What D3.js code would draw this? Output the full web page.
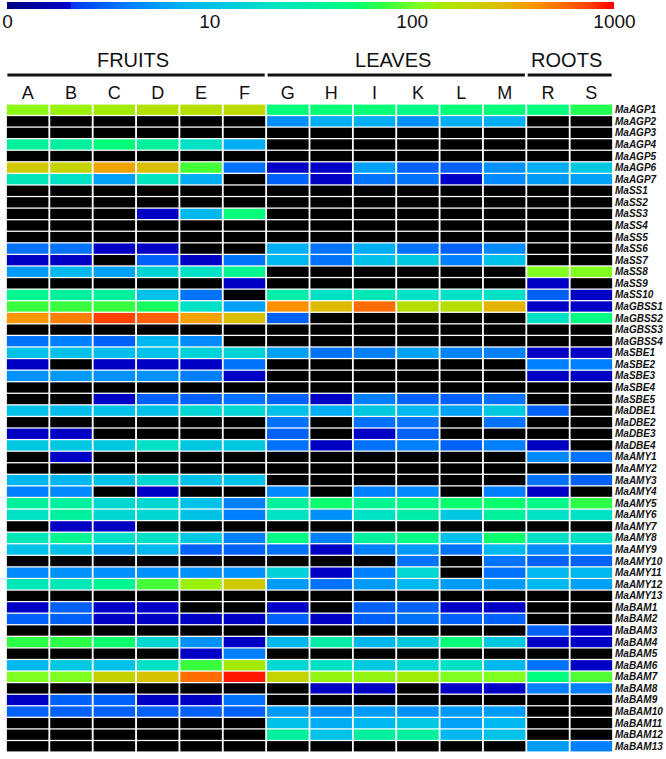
<!DOCTYPE html>
<html>
<head>
<meta charset="utf-8">
<script src="https://cdn.jsdelivr.net/npm/d3@7/dist/d3.min.js"></script>
<style>
  html, body { margin: 0; padding: 0; background: #fff; }
  svg { display: block; }
  text { font-family: "Liberation Sans", Arial, sans-serif; }
</style>
</head>
<body>
<svg id="chart" width="666" height="759"></svg>
<script>
// ---- data ----
const columns = ["A","B","C","D","E","F","G","H","I","K","L","M","R","S"];
const groups = [
  { name: "FRUITS", cols: ["A","B","C","D","E","F"] },
  { name: "LEAVES", cols: ["G","H","I","K","L","M"] },
  { name: "ROOTS",  cols: ["R","S"] }
];
const genes = [
  "MaAGP1","MaAGP2","MaAGP3","MaAGP4","MaAGP5","MaAGP6","MaAGP7",
  "MaSS1","MaSS2","MaSS3","MaSS4","MaSS5","MaSS6","MaSS7","MaSS8","MaSS9","MaSS10",
  "MaGBSS1","MaGBSS2","MaGBSS3","MaGBSS4",
  "MaSBE1","MaSBE2","MaSBE3","MaSBE4","MaSBE5",
  "MaDBE1","MaDBE2","MaDBE3","MaDBE4",
  "MaAMY1","MaAMY2","MaAMY3","MaAMY4","MaAMY5","MaAMY6","MaAMY7","MaAMY8","MaAMY9","MaAMY10","MaAMY11","MaAMY12","MaAMY13",
  "MaBAM1","MaBAM2","MaBAM3","MaBAM4","MaBAM5","MaBAM6","MaBAM7","MaBAM8","MaBAM9","MaBAM10","MaBAM11","MaBAM12","MaBAM13"
];
const n = null; // not detected (black)
const values = [
  [120,130,140,160,165,180,50,52,52,45,52,50,48,65],
  [n,n,n,n,n,n,5,7,7,5,7,7,n,n],
  [n,n,n,n,n,n,n,n,n,n,n,n,n,n],
  [35,35,50,35,20,7,n,n,n,n,n,n,n,n],
  [n,n,n,n,n,n,n,n,n,n,n,n,n,n],
  [230,200,350,270,80,3.5,2,2,6,3,3,5,7,12],
  [25,20,6,22,7,n,3,2,3.5,3.5,2,4.5,5.5,6],
  [n,n,n,n,n,n,n,n,n,n,n,n,n,n],
  [n,n,n,n,n,n,n,n,n,n,n,n,n,n],
  [n,n,n,2,8,50,n,n,n,n,n,n,n,n],
  [n,n,n,n,n,n,n,n,n,n,n,n,n,n],
  [n,n,n,n,n,n,n,n,n,n,n,n,n,n],
  [3.5,3.5,2,2,n,n,7,3.5,7,3.5,3,4.5,n,n],
  [2,2,n,3,2,3.5,8,3.5,10,12,4,10,n,n],
  [5.5,8,6,15,20,40,n,n,n,n,n,n,110,110],
  [n,n,n,n,n,2,n,n,n,n,n,n,2,n],
  [40,35,35,10,3.5,n,30,20,25,20,20,20,3,2],
  [75,75,75,60,20,6,420,280,550,170,170,300,2,2],
  [400,480,750,600,360,270,3,n,n,n,n,n,20,45],
  [n,n,n,n,n,n,n,n,n,n,n,n,n,n],
  [3.5,4,3,8,4.5,n,n,n,n,n,n,n,n,n],
  [10,10,9,10,14,15,6,3.5,4,6,4.2,4,2,2],
  [2,n,2,2,2,3.5,n,n,n,n,n,n,4,4],
  [5,5.5,5,5,4,2,n,n,n,n,n,n,2,2],
  [n,n,n,n,n,n,n,n,n,n,n,n,n,n],
  [n,n,2,3,3,3.5,3,2,4,3,3,3.5,n,n],
  [10,9,10,10,16,16,10,7,12,8,6,12,3,n],
  [n,n,n,n,n,n,3.5,n,3.5,3.5,n,3.5,n,n],
  [2,2,n,n,n,n,3,n,2,3,n,n,n,n],
  [12,12,12,20,12,12,3.5,2,3.5,4,3,4,2,n],
  [n,2,n,n,n,n,n,n,n,n,n,n,4.5,3.5],
  [n,n,n,n,n,n,n,n,n,n,n,n,n,n],
  [8,8,10,16,10,10,n,n,n,n,n,n,3.5,3],
  [4,4.5,n,2,n,n,4.5,n,4,4.5,n,4,2,n],
  [35,35,16,16,10,4,35,55,40,45,55,55,45,70],
  [20,35,16,16,10,4,20,5,20,30,12,35,20,20],
  [n,2,2,n,n,n,n,n,n,n,n,n,n,n],
  [25,40,20,20,12,4,45,4,35,45,10,55,20,20],
  [10,10,6,8,3,3,3.5,2,4,5.5,3.5,8,4.5,5],
  [n,n,n,n,n,n,n,n,n,3.5,n,3.5,3,3],
  [4.5,5,5,5,5,5,14,2,4,16,n,3.5,8,8],
  [25,25,40,80,130,230,5.5,3.5,5.5,8,5.5,5.5,8,6],
  [n,n,n,n,n,n,n,n,n,n,n,n,n,n],
  [2,3,2,2,n,n,2,n,3,3,2,2,n,n],
  [3,3,2,2,2,2,3,2,3,3.5,3,3,n,n],
  [n,n,n,n,n,n,n,n,n,n,n,n,3,2],
  [70,70,55,16,5,2,8,30,8,12,50,12,2,2],
  [n,n,n,n,2,4,n,n,n,n,n,n,n,n],
  [8,12,10,20,75,140,16,20,12,16,20,8,3.5,2],
  [110,110,200,250,550,900,190,125,125,135,110,110,50,85],
  [n,n,n,n,n,n,n,2,2,n,2,2,4,4],
  [2,3,3,2,2,3.5,n,n,n,n,n,n,n,n],
  [3,3,3,3,3,3,5.5,4.5,5.5,5,5.5,5.5,n,n],
  [n,n,n,n,n,n,10,7,8,12,6,8,n,n],
  [n,n,n,n,n,n,35,10,35,35,8,10,n,n],
  [n,n,n,n,n,n,n,n,n,n,n,n,5.5,4]
];
const legendTickValues = [1, 10, 100, 1000];
const legendTickLabels = ["0", "10", "100", "1000"];
const colorStops = [0, 0.104, 0.106, 0.2, 0.3, 0.36, 0.43, 0.51, 0.57, 0.62, 0.68, 0.72, 0.77, 0.82, 0.875, 0.91, 0.96, 1];
const colorRange = ["#000080","#0000c8","#0038f0","#0080ff","#00b8f0","#00c8e0","#00e0c8","#00f0a0","#00ff78","#30ff40","#80ff20","#a8e800","#c8d000","#e0b800","#ff9000","#ff7000","#ff4000","#ff0000"];

// ---- scales ----
const svg = d3.select("#chart");
const gridLeft = 6, gridRight = 613, gridTop = 104, gridBottom = 752;

const x = d3.scaleBand().domain(columns).range([gridLeft, gridRight]).paddingInner(0.042).paddingOuter(0.02);
const y = d3.scaleBand().domain(genes).range([gridTop, gridBottom]).paddingInner(0.11).paddingOuter(0.05);

const tScale = d3.scaleLog().domain([1, 1000]).range([0, 1]).clamp(true);
const tColor = d3.scaleLinear().domain(colorStops).range(colorRange).interpolate(d3.interpolateRgb).clamp(true);
const color = v => tColor(tScale(v));

// ---- legend ----
const legX0 = 7, legX1 = 614;
const legScale = d3.scaleLog().domain([1, 1000]).range([legX0, legX1]);
const defs = svg.append("defs");
const grad = defs.append("linearGradient").attr("id", "legGrad").attr("x1", "0%").attr("x2", "100%");
const nStops = 120;
for (let i = 0; i <= nStops; i++) {
  const t = i / nStops;
  grad.append("stop").attr("offset", (t * 100) + "%").attr("stop-color", tColor(t));
}
// keep the sharp jump in the dark-blue segment
colorStops.forEach((t, i) => grad.append("stop").attr("offset", (t * 100) + "%").attr("stop-color", colorRange[i]));
grad.selectAll("stop").sort((a, b) => 0);
// re-sort stops by offset
const stopsSorted = grad.selectAll("stop").nodes().sort((a, b) => parseFloat(a.getAttribute("offset")) - parseFloat(b.getAttribute("offset")));
stopsSorted.forEach(s => grad.node().appendChild(s));

svg.append("rect").attr("x", legX0).attr("y", 2).attr("width", legX1 - legX0).attr("height", 7).attr("fill", "url(#legGrad)");

const legAxis = d3.axisBottom(legScale).tickValues(legendTickValues).tickFormat((d, i) => legendTickLabels[i]).tickSize(0).tickPadding(0);
const legG = svg.append("g").attr("transform", "translate(0,11)").call(legAxis);
legG.select(".domain").remove();
legG.selectAll("text").attr("font-size", 19).attr("fill", "#111").attr("dy", "0.9em")
  .style("font-family", "\"Liberation Sans\", Arial, sans-serif");

// ---- group headers ----
groups.forEach(g => {
  const x0 = x(g.cols[0]) - 0.5;
  const x1 = x(g.cols[g.cols.length - 1]) + x.bandwidth() + 0.5;
  svg.append("line").attr("x1", x0 + 1).attr("x2", x1 - 1).attr("y1", 75).attr("y2", 75)
    .attr("stroke", "#111").attr("stroke-width", 3);
  svg.append("text").attr("x", (x0 + x1) / 2 - 3).attr("y", 67).attr("text-anchor", "middle")
    .attr("font-size", 20).attr("fill", "#111").text(g.name);
});

// ---- column labels ----
const colAxis = d3.axisTop(x).tickSize(0).tickPadding(0);
const colG = svg.append("g").attr("transform", "translate(0,99)").call(colAxis);
colG.select(".domain").remove();
colG.selectAll("text").attr("font-size", 18).attr("fill", "#111").attr("dy", 0)
  .style("font-family", "\"Liberation Sans\", Arial, sans-serif");

// ---- cells ----
const cells = [];
values.forEach((row, ri) => row.forEach((v, ci) => cells.push({ gene: genes[ri], col: columns[ci], v })));
svg.append("g").selectAll("rect").data(cells).join("rect")
  .attr("x", d => x(d.col))
  .attr("y", d => y(d.gene))
  .attr("width", x.bandwidth())
  .attr("height", y.bandwidth())
  .attr("fill", d => d.v == null ? "#000" : color(d.v));

// ---- row labels ----
const rowAxis = d3.axisRight(y).tickSize(0).tickPadding(0);
const rowG = svg.append("g").attr("transform", "translate(615,0)").call(rowAxis);
rowG.select(".domain").remove();
rowG.selectAll("text").attr("font-size", 10).attr("font-weight", "bold").attr("font-style", "italic")
  .attr("fill", "#111").attr("dy", "0.35em")
  .style("font-family", "\"Liberation Sans\", Arial, sans-serif");
</script>
</body>
</html>
